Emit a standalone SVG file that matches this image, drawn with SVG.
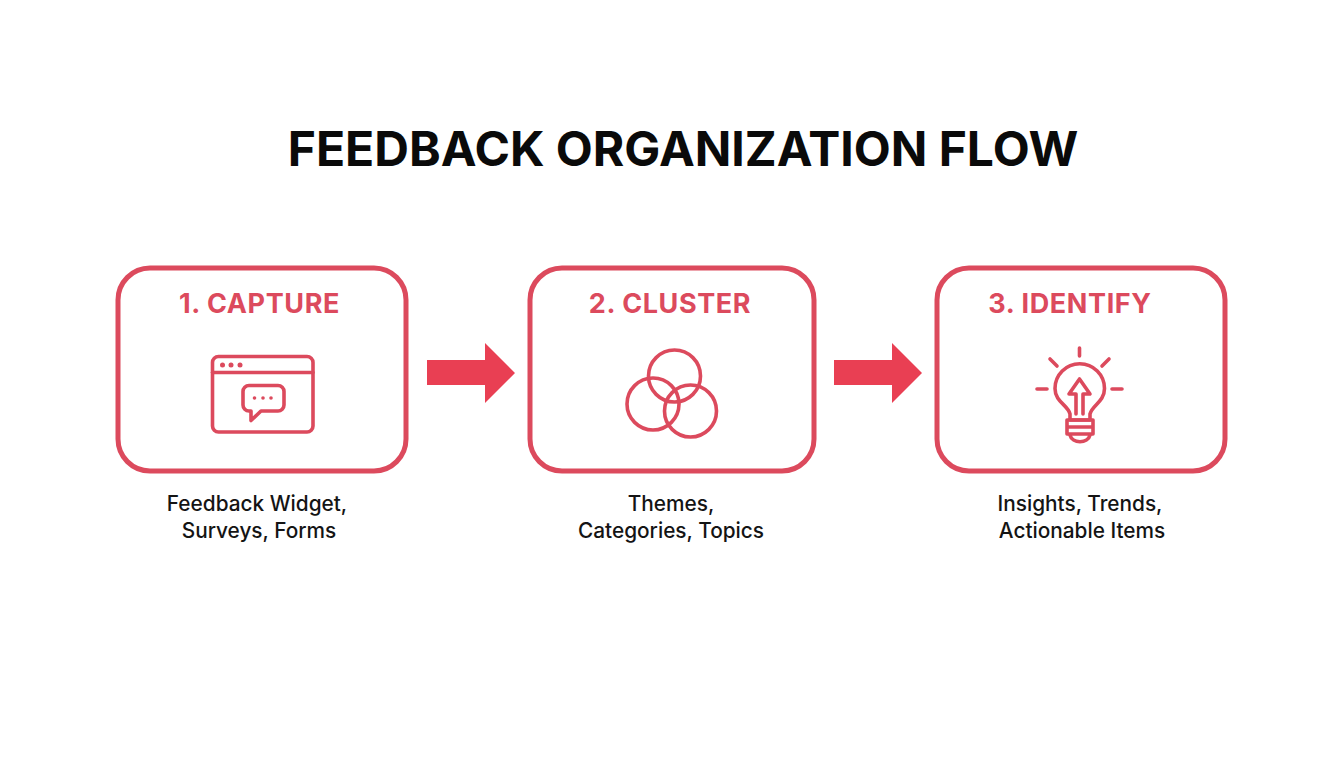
<svg xmlns="http://www.w3.org/2000/svg" width="1344" height="768" viewBox="0 0 1344 768">
<style>
.title{font:700 48px Inter,"Liberation Sans",sans-serif;fill:#0a0a0a;text-anchor:middle}
.head{font:700 27px Inter,"Liberation Sans",sans-serif;fill:#dc4a5d;text-anchor:middle;letter-spacing:.6px}
.cap{font:500 20.800px Inter,"Liberation Sans",sans-serif;fill:#141414;text-anchor:middle}
.box{fill:#fff;stroke:#dc4a5d;stroke-width:5}
.ic{fill:none;stroke:#dc4a5d;stroke-width:3.6;stroke-linecap:round;stroke-linejoin:round}
.dot{fill:#dc4a5d}
.arrow{fill:#e93f53}
</style>
<rect width="1344" height="768" fill="#fff"/>
<text id="title" class="title" x="683" y="165.500">FEEDBACK ORGANIZATION FLOW</text>
<g id="connectors">
<path class="arrow" d="M427 360H485V343L515 373L485 403V385H427Z"/>
<path class="arrow" d="M834 360H892V343L922 373L892 403V385H834Z"/>
</g>
<g id="node-capture">
<rect class="box" x="118" y="268" width="288" height="203" rx="32"/>
<text class="head" x="259.500" y="312.500">1. CAPTURE</text>
<rect class="ic" x="212.500" y="356.500" width="100.500" height="75.500" rx="6"/>
<path class="ic" d="M212.500 372.500H313"/>
<circle class="dot" cx="222.500" cy="365" r="2.500"/><circle class="dot" cx="231" cy="365" r="2.500"/><circle class="dot" cx="240" cy="365" r="2.500"/>
<path class="ic" d="M249 385.500H278a6 6 0 0 1 6 6V405a6 6 0 0 1 -6 6H261L251 420.500V411H249a6 6 0 0 1 -6 -6V391.500a6 6 0 0 1 6 -6Z"/>
<circle class="dot" cx="254.500" cy="398" r="1.800"/><circle class="dot" cx="263" cy="398" r="1.800"/><circle class="dot" cx="271" cy="398" r="1.800"/>
<text class="cap" x="257" y="510.500">Feedback Widget,</text>
<text class="cap" x="259" y="537.500">Surveys, Forms</text>
</g>
<g id="node-cluster">
<rect class="box" x="530" y="268" width="284" height="203" rx="32"/>
<text class="head" x="670" y="312.500">2. CLUSTER</text>
<circle class="ic" cx="674.500" cy="376" r="26"/>
<circle class="ic" cx="653" cy="404" r="26"/>
<circle class="ic" cx="690.500" cy="411" r="26"/>
<text class="cap" x="671" y="510.500">Themes,</text>
<text class="cap" x="671" y="537.500">Categories, Topics</text>
</g>
<g id="node-identify">
<rect class="box" x="937" y="268" width="288" height="203" rx="32"/>
<text class="head" x="1070" y="312.500">3. IDENTIFY</text>
<path class="ic" d="M1079.500 348V356M1050 359L1057 366M1109 359L1102 366M1037 389H1047M1112 389H1122"/>
<path class="ic" d="M1070 414C1068 405 1055 402 1055 388.500A24.500 24.500 0 0 1 1104.500 388.500C1104.500 402 1092 405 1090 414V420H1070Z"/>
<path class="ic" d="M1067 420H1093M1067 427H1093M1067 434H1093M1067 420V434M1093 420V434"/>
<path class="ic" d="M1070 435C1072 444 1088 444 1090 435"/>
<path class="ic" d="M1076 414V394H1069L1079.500 379L1090 394H1083V414"/>
<text class="cap" x="1080" y="510.500">Insights, Trends,</text>
<text class="cap" x="1082" y="537.500">Actionable Items</text>
</g>
</svg>
